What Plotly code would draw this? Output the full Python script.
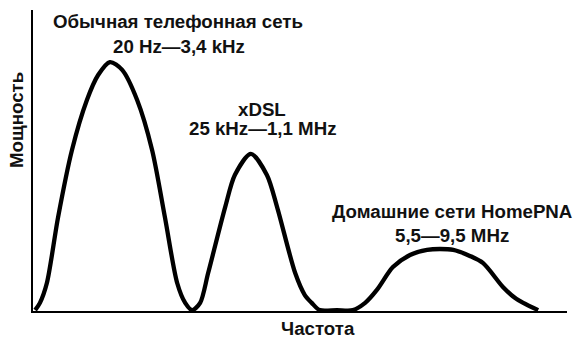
import plotly.graph_objects as go

# Spectrum envelope (frequency in relative units 0..100, power in relative units 0..100)
freq = [0.4, 1.3, 2.6, 4.7, 7.3, 10.1, 12.2, 14.4, 16.7, 19.5, 22.3, 24.7, 27.0, 28.5,
        29.8, 31.3, 32.8, 36.0, 37.8, 40.8, 43.8, 45.7, 49.1, 50.9, 52.2, 53.7,
        56.9, 59.9, 62.2, 64.4, 67.4, 70.6, 73.8, 76.2, 78.7, 81.8, 84.3, 88.0,
        90.3, 91.8, 94.6]
power = [0.3, 2.7, 9.3, 31.2, 53.5, 70.1, 78.4, 82.7, 80.1, 70.1, 53.5, 31.2, 9.3, 2.7,
         0.3, 2.7, 12.6, 34.6, 45.2, 52.2, 45.2, 34.6, 12.6, 5.3, 2.7, 0.3,
         0.3, 0.3, 2.7, 7.0, 14.6, 18.6, 20.3, 20.6, 20.3, 18.3, 15.9, 8.0,
         4.3, 2.7, 0.3]

band_names = ["Обычная телефонная сеть", "xDSL", "Домашние сети HomePNA"]
band_ranges = ["20 Hz—3,4 kHz", "25 kHz—1,1 MHz", "5,5—9,5 MHz"]

x_title = "Частота"
y_title = "Мощность"

W, H = 580, 339
L, R, T, B = 33, 567, 10, 311  # plot area in pixels


def px(x):
    return (x - L) / (R - L)


def py(y):
    return (B - y) / (B - T)


font = dict(family="Liberation Sans, Arial, sans-serif", size=18.7, color="#111111", weight="bold")

fig = go.Figure()
fig.add_trace(go.Scatter(
    x=freq, y=power, mode="lines",
    line=dict(color="#000000", width=4.3, shape="spline", smoothing=0.8),
    hoverinfo="skip", showlegend=False,
))

# label placement (pixel centres) for each band: name line and range line
name_pos = [(178, 21), (262, 109), (452, 211)]
range_pos = [(179, 46), (262, 128), (452, 235)]

ann = []
for name, rng, (nx, ny), (rx, ry) in zip(band_names, band_ranges, name_pos, range_pos):
    ann.append(dict(text=name, x=px(nx), y=py(ny), xref="paper", yref="paper",
                    showarrow=False, xanchor="center", yanchor="middle", font=font))
    ann.append(dict(text=rng, x=px(rx), y=py(ry), xref="paper", yref="paper",
                    showarrow=False, xanchor="center", yanchor="middle", font=font))

ann.append(dict(text=x_title, x=px(318), y=py(328), xref="paper", yref="paper",
                showarrow=False, xanchor="center", yanchor="middle", font=font))
ann.append(dict(text=y_title, x=px(17), y=py(120), xref="paper", yref="paper",
                showarrow=False, xanchor="center", yanchor="middle", textangle=-90, font=font))

fig.update_layout(
    width=W, height=H,
    margin=dict(l=L, r=W - R, t=T, b=H - B, pad=0),
    paper_bgcolor="white", plot_bgcolor="white",
    annotations=ann,
    xaxis=dict(range=[0, 100], showline=True, linecolor="#000000", linewidth=2,
               showgrid=False, zeroline=False, showticklabels=False, ticks=""),
    yaxis=dict(range=[0, 100], showline=True, linecolor="#000000", linewidth=2,
               showgrid=False, zeroline=False, showticklabels=False, ticks=""),
)

fig.write_html("out.html")
